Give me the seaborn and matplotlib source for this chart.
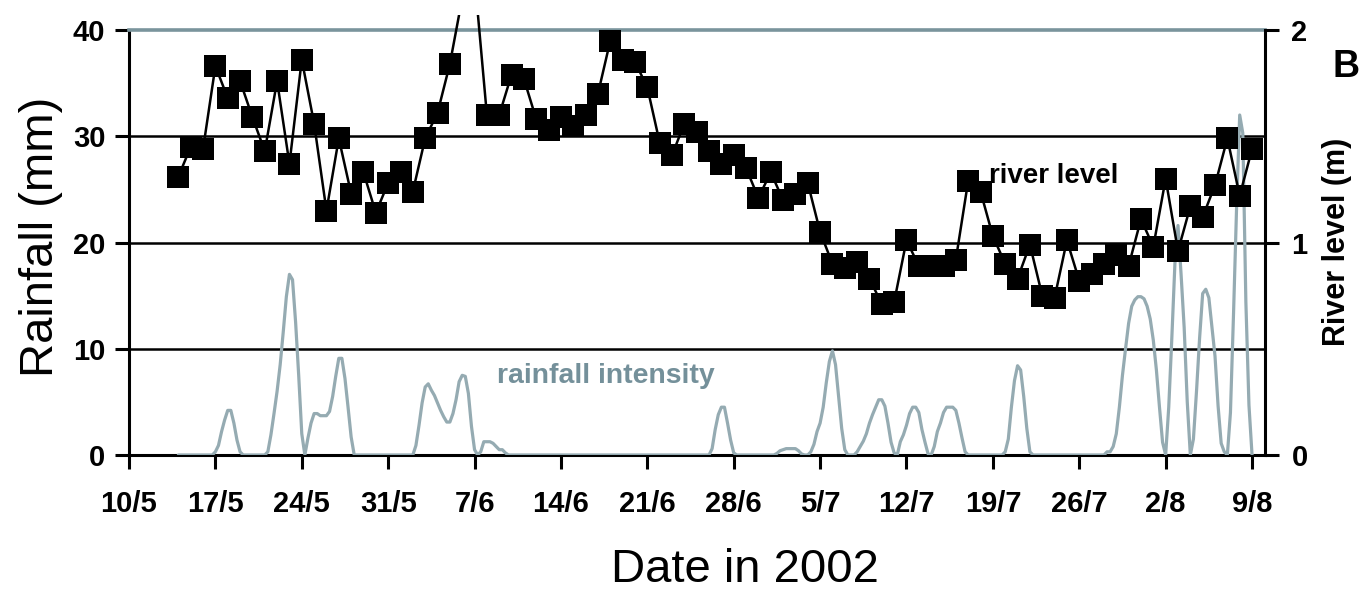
import numpy as np
import pandas as pd
import matplotlib
matplotlib.use("Agg")
import matplotlib.pyplot as plt
from matplotlib.transforms import Bbox, TransformedBbox
import seaborn as sns

sns.set_theme(style="white")
plt.rcParams["font.family"] = ["Liberation Sans", "DejaVu Sans"]
plt.rcParams.update({"text.color": "black", "axes.labelcolor": "black",
                     "xtick.color": "black", "ytick.color": "black"})

# Daily river level (m), 14/5/2002 - 9/8/2002
level_start = "2002-05-14"
river_level = [
    1.31, 1.45, 1.44, 1.83, 1.68, 1.76, 1.59, 1.43, 1.76, 1.37,
    1.86, 1.56, 1.15, 1.49, 1.23, 1.33, 1.14, 1.28, 1.33, 1.24,
    1.49, 1.61, 1.84, 2.15, 2.25, 1.60, 1.60, 1.79, 1.77, 1.58,
    1.53, 1.59, 1.55, 1.60, 1.70, 1.95, 1.86, 1.85, 1.73, 1.47,
    1.41, 1.56, 1.52, 1.43, 1.37, 1.41, 1.35, 1.21, 1.33, 1.20,
    1.23, 1.28, 1.05, 0.90, 0.88, 0.91, 0.83, 0.71, 0.72, 1.01,
    0.89, 0.89, 0.89, 0.92, 1.29, 1.24, 1.03, 0.90, 0.83, 0.99,
    0.75, 0.74, 1.01, 0.82, 0.85, 0.90, 0.94, 0.89, 1.11, 0.98,
    1.30, 0.96, 1.17, 1.12, 1.27, 1.49, 1.22, 1.44,
]

# 6-hourly rainfall intensity (mm); readings outside these wet spells are zero
rain_start = "2002-05-14 00:00"
rain_end = "2002-08-09 00:00"
rain_spells = {
    "2002-05-17 00:00": [0.3, 0.9, 2.2, 3.3, 4.2, 4.2, 3.0, 1.4, 0.3],
    "2002-05-21 06:00": [0.3, 1.9, 3.9, 6.0, 8.5, 11.6, 14.9, 17.0, 16.5, 12.5, 7.5, 2.0],
    "2002-05-24 12:00": [1.6, 3.0, 3.9, 3.9, 3.7, 3.7, 3.7, 4.1, 5.5, 7.4, 9.1, 9.1, 7.2, 4.5, 1.7],
    "2002-06-02 06:00": [0.9, 2.8, 4.9, 6.4, 6.7, 6.1, 5.6, 4.9, 4.2, 3.6, 3.1, 3.1, 3.9, 5.2,
                         6.9, 7.5, 7.4, 5.8, 2.7, 0.5],
    "2002-06-07 12:00": [0.3, 1.25, 1.25, 1.25, 1.1, 0.8, 0.5, 0.5, 0.2],
    "2002-06-26 06:00": [0.6, 2.4, 3.8, 4.5, 4.5, 3.0, 1.4, 0.2],
    "2002-07-01 12:00": [0.15, 0.4, 0.5, 0.6, 0.6, 0.6, 0.6, 0.4, 0.1],
    "2002-07-04 06:00": [0.3, 1.0, 2.2, 3.0, 4.5, 6.8, 8.8, 9.8, 8.5, 5.5, 2.5, 0.5],
    "2002-07-08 00:00": [0.3, 0.8, 1.3, 2.0, 3.0, 3.8, 4.5, 5.2, 5.2, 4.6, 3.0, 1.2, 0.2],
    "2002-07-11 12:00": [1.25, 1.9, 2.8, 3.9, 4.5, 4.5, 4.0, 2.4, 1.2, 0.1],
    "2002-07-14 06:00": [0.8, 2.2, 3.0, 4.0, 4.5, 4.5, 4.5, 4.2, 3.0, 1.6, 0.3],
    "2002-07-20 00:00": [0.3, 1.5, 4.5, 7.0, 8.4, 8.0, 5.5, 2.5, 0.3],
    "2002-07-28 06:00": [0.3, 0.3, 0.8, 2.0, 4.5, 7.5, 10.0, 12.4, 14.0, 14.6, 14.9, 14.9,
                         14.7, 14.0, 12.8, 10.8, 8.0, 4.5, 1.2, 0.0, 4.5, 11.0, 18.0, 21.6,
                         17.0, 12.0, 5.0, 0.0, 1.5, 6.0, 11.0, 15.2, 15.6, 14.8, 12.0, 9.3,
                         4.6, 1.1, 0.3, 0.0, 4.0, 13.3, 23.4, 32.0, 30.3, 14.4, 4.7],
}

tick_labels = ["10/5", "17/5", "24/5", "31/5", "7/6", "14/6", "21/6",
               "28/6", "5/7", "12/7", "19/7", "26/7", "2/8", "9/8"]
rain_ticks = [0, 10, 20, 30, 40]
level_ticks = [0, 1, 2]

# ---- assemble tables ----
rain_index = pd.date_range(rain_start, rain_end, freq="6h")
rain = pd.Series(0.0, index=rain_index)
for start, vals in rain_spells.items():
    rain.loc[pd.date_range(start, periods=len(vals), freq="6h")] = vals
rain_df = pd.DataFrame({"time": rain.index, "rainfall": rain.values})

level_df = pd.DataFrame({
    "time": pd.date_range(level_start, periods=len(river_level), freq="D"),
    "level": river_level,
})

# ---- figure ----
W, H = 1359, 591
fig = plt.figure(figsize=(W / 100, H / 100), dpi=100)
fig.subplots_adjust(left=129 / W, right=1265 / W, bottom=1 - 455 / H, top=1 - 30 / H)
ax = fig.add_subplot(111)
ax2 = ax.twinx()

rain_color = "#95abb2"
frame_grey = "#7a949c"

sns.lineplot(data=rain_df, x="time", y="rainfall", ax=ax, color=rain_color,
             linewidth=2.3, estimator=None, zorder=3)
sns.lineplot(data=level_df, x="time", y="level", ax=ax2, color="black",
             linewidth=1.8, marker="s", markersize=16, markeredgewidth=0,
             estimator=None)

# let the river trace run a little above the frame before it is cut
level_line = ax2.lines[0]
level_line.set_clip_path(None)
level_line.set_clip_box(TransformedBbox(Bbox([[0, 0], [1, 1 + 15 / 425]]), ax2.transAxes))

# x axis
x0 = pd.Timestamp("2002-05-10")
ax.set_xlim(x0, x0 + pd.Timedelta(days=92.05))
ax.set_xticks(pd.date_range(x0, periods=len(tick_labels), freq="7D"))
ax.set_xticklabels(tick_labels, fontsize=21, fontweight="bold")

# left axis: rainfall
ax.set_ylim(0, 40)
ax.set_yticks(rain_ticks)
ax.set_yticklabels([str(v) for v in rain_ticks], fontsize=21, fontweight="bold")
ax.yaxis.grid(True, color="black", linewidth=1.8)
ax.xaxis.grid(False)
gl = ax.get_ygridlines()
gl[0].set_visible(False)
gl[-1].set_visible(False)

# right axis: river level
ax2.set_ylim(0, 2)
ax2.set_yticks(level_ticks)
ax2.set_yticklabels([str(v) for v in level_ticks], fontsize=21, fontweight="bold")
ax2.grid(False)

ax.set_xlabel("")
ax.set_ylabel("")
ax2.set_ylabel("")

for name, sp in ax.spines.items():
    sp.set_linewidth(2.2)
    sp.set_color("black")
ax.spines["top"].set_color(frame_grey)
ax.spines["top"].set_linewidth(2.6)
ax.spines["right"].set_visible(False)
for name in ["top", "left", "bottom"]:
    ax2.spines[name].set_visible(False)
ax2.spines["right"].set_linewidth(2.2)
ax2.spines["right"].set_color("black")

ax.tick_params(axis="y", direction="out", length=10, width=2.2, color="black",
               labelcolor="black", pad=7, left=True)
ax.tick_params(axis="x", direction="out", length=10, width=2.2, color="black",
               labelcolor="black", pad=15, bottom=True)
ax2.tick_params(axis="y", direction="out", length=10, width=2.2, color="black",
                labelcolor="black", pad=9, right=True)

# labels
fig.text(41 / W, 1 - 237 / H, "Rainfall (mm)", rotation=90, ha="center",
         va="center", fontsize=34, color="black")
fig.text(745 / W, 1 - 570 / H, "Date in 2002", ha="center", va="center",
         fontsize=34, color="black")
fig.text(1337 / W, 1 - 242 / H, "River level (m)", rotation=90, ha="center",
         va="center", fontsize=22, fontweight="bold", color="black")
fig.text(1346 / W, 1 - 67 / H, "B", ha="center", va="center", fontsize=27,
         fontweight="bold", color="black")

# series annotations
ax2.text(pd.Timestamp("2002-07-18 17:00"), 1.28, "river level", fontsize=20,
         fontweight="bold", color="black", ha="left", va="baseline")
ax.text(pd.Timestamp("2002-06-08 19:00"), 6.8, "rainfall intensity", fontsize=20.4,
        fontweight="bold", color="#74909a", ha="left", va="baseline")

fig.savefig("out.png", dpi=100)
